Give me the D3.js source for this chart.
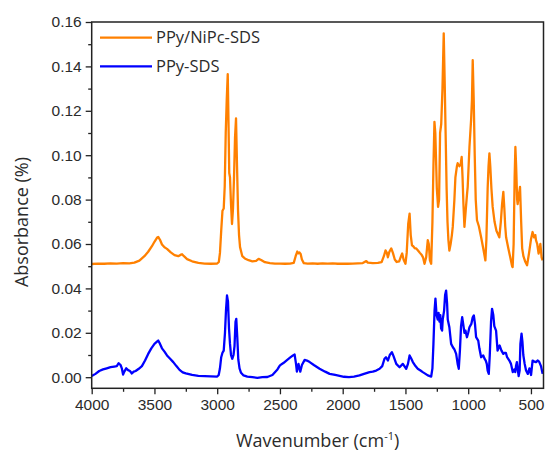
<!DOCTYPE html>
<html>
<head>
<meta charset="utf-8">
<script src="https://cdn.jsdelivr.net/npm/d3@7"></script>
<style>
  html, body { margin: 0; padding: 0; background: #fff; }
  svg { display: block; font-family: "Open Sans", "Noto Sans", sans-serif; }
</style>
</head>
<body>
<svg id="chart" width="546" height="454"></svg>
<script>
// ---------- DATA ----------
const seriesNames = ["PPy/NiPc-SDS", "PPy-SDS"];

const nipcWavenumber = [4000,3950,3900,3850,3800,3750,3700,3660,3620,3580,3550,3520,3500,3480,3470,3455,3440,3420,3400,3370,3340,3310,3290,3280,3265,3240,3200,3150,3100,3050,3000,2987,2978,2968,2958,2948,2940,2932,2924,2916,2910,2904,2898,2890,2882,2874,2866,2858,2850,2842,2834,2826,2818,2800,2780,2750,2720,2690,2670,2650,2620,2580,2540,2500,2460,2420,2390,2375,2362,2352,2345,2335,2325,2310,2280,2240,2200,2160,2120,2080,2040,2000,1960,1920,1880,1840,1812,1800,1760,1720,1690,1672,1659,1648,1640,1628,1613,1600,1585,1570,1550,1535,1526,1515,1500,1490,1478,1467,1458,1448,1438,1425,1414,1400,1385,1370,1360,1348,1335,1322,1314,1305,1295,1285,1277,1269,1262,1250,1240,1232,1224,1215,1205,1195,1188,1180,1172,1165,1158,1150,1140,1130,1123,1110,1102,1090,1084,1070,1060,1052,1045,1038,1030,1020,1010,1004,990,977,970,964,956,948,940,930,915,897,880,863,855,845,838,831,824,815,805,790,775,765,752,740,730,720,712,705,698,680,665,650,646,638,630,624,618,610,606,596,587,578,570,560,545,531,515,500,487,475,465,460,450,439,425,415,407];
const nipcAbsorbance = [0.0510,0.0512,0.0511,0.0513,0.0512,0.0514,0.0513,0.0516,0.0525,0.0545,0.0565,0.0590,0.0610,0.0628,0.0632,0.0618,0.0598,0.0585,0.0578,0.0562,0.0550,0.0545,0.0552,0.0554,0.0545,0.0532,0.0522,0.0515,0.0512,0.0511,0.0512,0.0519,0.0560,0.0660,0.0750,0.0760,0.0860,0.1100,0.1250,0.1365,0.1150,0.0920,0.0900,0.0780,0.0690,0.0760,0.0900,0.1080,0.1166,0.0950,0.0750,0.0640,0.0586,0.0545,0.0535,0.0527,0.0522,0.0524,0.0533,0.0528,0.0518,0.0514,0.0512,0.0512,0.0511,0.0512,0.0515,0.0545,0.0566,0.0558,0.0562,0.0555,0.0530,0.0514,0.0512,0.0513,0.0511,0.0513,0.0512,0.0513,0.0511,0.0512,0.0511,0.0512,0.0513,0.0514,0.0523,0.0516,0.0514,0.0515,0.0518,0.0545,0.0571,0.0560,0.0540,0.0565,0.0580,0.0560,0.0530,0.0519,0.0522,0.0545,0.0557,0.0530,0.0511,0.0560,0.0690,0.0737,0.0640,0.0594,0.0590,0.0580,0.0580,0.0571,0.0560,0.0550,0.0540,0.0511,0.0540,0.0617,0.0600,0.0526,0.0511,0.0700,0.0950,0.1150,0.1100,0.0850,0.0767,0.0800,0.1100,0.1140,0.1300,0.1549,0.1350,0.1100,0.0850,0.0700,0.0620,0.0570,0.0600,0.0640,0.0677,0.0800,0.0900,0.0950,0.0964,0.0950,0.0960,0.0992,0.0900,0.0780,0.0677,0.0750,0.0820,0.0857,0.1037,0.1158,0.1250,0.1428,0.1250,0.1000,0.0800,0.0707,0.0680,0.0630,0.0580,0.0526,0.0620,0.0850,0.0950,0.1008,0.0950,0.0850,0.0767,0.0700,0.0660,0.0647,0.0630,0.0700,0.0780,0.0835,0.0760,0.0680,0.0630,0.0580,0.0540,0.0500,0.0496,0.0600,0.0900,0.1037,0.0950,0.0800,0.0780,0.0820,0.0857,0.0700,0.0580,0.0545,0.0520,0.0504,0.0560,0.0620,0.0654,0.0630,0.0640,0.0617,0.0600,0.0557,0.0600,0.0540,0.0526];

const sdsWavenumber = [4000,3970,3940,3910,3880,3850,3820,3800,3785,3770,3760,3750,3740,3725,3710,3695,3680,3665,3650,3625,3600,3575,3550,3525,3500,3480,3470,3460,3440,3420,3400,3375,3350,3325,3300,3275,3250,3200,3150,3100,3050,3000,2988,2978,2968,2958,2948,2938,2930,2922,2914,2906,2898,2890,2880,2870,2862,2854,2848,2840,2832,2822,2810,2790,2760,2720,2680,2640,2600,2560,2520,2500,2470,2449,2420,2396,2383,2372,2365,2358,2352,2345,2338,2325,2303,2285,2263,2230,2184,2140,2104,2060,2025,1990,1950,1910,1866,1830,1786,1760,1733,1706,1685,1667,1655,1640,1625,1608,1595,1573,1547,1521,1494,1480,1467,1455,1441,1420,1402,1380,1362,1340,1322,1295,1285,1277,1268,1261,1252,1243,1236,1229,1222,1216,1208,1203,1192,1184,1176,1168,1163,1150,1136,1122,1110,1096,1084,1075,1066,1057,1048,1040,1030,1022,1010,1000,990,975,964,955,946,937,920,911,897,880,871,860,852,845,836,828,818,810,800,792,778,766,750,735,720,712,700,690,672,659,645,632,625,619,612,606,598,590,584,575,568,561,550,539,525,512,499,487,473,460,447,435,420,407];
const sdsAbsorbance = [0.0005,0.0015,0.0028,0.0035,0.0040,0.0045,0.0048,0.0050,0.0063,0.0055,0.0040,0.0012,0.0025,0.0040,0.0032,0.0028,0.0017,0.0025,0.0028,0.0038,0.0050,0.0075,0.0105,0.0130,0.0150,0.0160,0.0165,0.0155,0.0130,0.0115,0.0098,0.0083,0.0068,0.0050,0.0033,0.0022,0.0017,0.0010,0.0006,0.0005,0.0004,0.0003,0.0010,0.0040,0.0090,0.0110,0.0120,0.0200,0.0300,0.0368,0.0340,0.0220,0.0150,0.0100,0.0083,0.0100,0.0140,0.0250,0.0263,0.0180,0.0080,0.0040,0.0020,0.0008,0.0003,0.0000,-0.0003,0.0000,0.0001,0.0010,0.0035,0.0053,0.0065,0.0075,0.0088,0.0098,0.0102,0.0060,0.0025,0.0045,0.0060,0.0040,0.0025,0.0055,0.0078,0.0075,0.0068,0.0055,0.0038,0.0025,0.0015,0.0010,0.0006,0.0002,0.0000,0.0003,0.0008,0.0015,0.0023,0.0025,0.0030,0.0038,0.0050,0.0083,0.0090,0.0075,0.0100,0.0113,0.0095,0.0060,0.0045,0.0060,0.0038,0.0060,0.0098,0.0085,0.0068,0.0050,0.0038,0.0030,0.0023,0.0015,0.0008,0.0003,0.0040,0.0150,0.0300,0.0354,0.0280,0.0260,0.0290,0.0250,0.0280,0.0220,0.0210,0.0260,0.0300,0.0370,0.0390,0.0330,0.0260,0.0225,0.0150,0.0135,0.0125,0.0105,0.0060,0.0038,0.0120,0.0230,0.0270,0.0240,0.0200,0.0210,0.0180,0.0200,0.0225,0.0240,0.0270,0.0278,0.0240,0.0180,0.0165,0.0130,0.0090,0.0098,0.0085,0.0075,0.0060,0.0030,0.0015,0.0100,0.0250,0.0308,0.0280,0.0230,0.0210,0.0120,0.0143,0.0120,0.0105,0.0110,0.0110,0.0090,0.0075,0.0060,0.0023,0.0035,0.0023,0.0050,0.0068,0.0040,0.0005,0.0030,0.0150,0.0196,0.0160,0.0100,0.0060,0.0030,0.0015,0.0040,0.0010,0.0075,0.0070,0.0068,0.0075,0.0070,0.0050,0.0015,0.0003];

const xMajorTicks = [4000,3500,3000,2500,2000,1500,1000,500];
const xMinorTicks = [3750,3250,2750,2250,1750,1250,750];
const yMajorTicks = [0.00,0.02,0.04,0.06,0.08,0.10,0.12,0.14,0.16];
const yMinorTicks = [0.01,0.03,0.05,0.07,0.09,0.11,0.13,0.15];
const seriesColors = ["#FF8000", "#0000FF"];

// ---------- LAYOUT ----------
const svg = d3.select("#chart");
const plot = { left: 91.7, right: 543.5, top: 22, bottom: 388.3 };
const textColor = "#2b2b2b";

const x = d3.scaleLinear().domain([4000, 400]).range([plot.left, plot.right]);
const y = d3.scaleLinear().domain([-0.005, 0.16]).range([plot.bottom, plot.top]);

svg.append("defs").append("clipPath").attr("id", "clip")
  .append("rect")
  .attr("x", plot.left).attr("y", plot.top)
  .attr("width", plot.right - plot.left).attr("height", plot.bottom - plot.top);

// lines
const series = [
  { name: seriesNames[0], wn: nipcWavenumber, ab: nipcAbsorbance, color: seriesColors[0] },
  { name: seriesNames[1], wn: sdsWavenumber, ab: sdsAbsorbance, color: seriesColors[1] }
];
const line = d3.line().x(d => x(d[0])).y(d => y(d[1]));
const gLines = svg.append("g").attr("clip-path", "url(#clip)");
series.forEach(s => {
  const pts = s.wn.map((w, i) => [w, s.ab[i]]);
  gLines.append("path")
    .datum(pts)
    .attr("fill", "none")
    .attr("stroke", s.color)
    .attr("stroke-width", 2.3)
    .attr("stroke-linejoin", "round")
    .attr("d", line);
});

// frame
svg.append("rect")
  .attr("x", plot.left).attr("y", plot.top)
  .attr("width", plot.right - plot.left).attr("height", plot.bottom - plot.top)
  .attr("fill", "none").attr("stroke", "#222").attr("stroke-width", 1.5);

// axes
function styleAxis(g) {
  g.select(".domain").remove();
  g.selectAll(".tick line").attr("stroke", "#222").attr("stroke-width", 1.3);
  g.selectAll(".tick text").attr("fill", textColor).style("font-size", "15.5px");
}
svg.append("g").attr("transform", `translate(0,${plot.bottom})`)
  .call(d3.axisBottom(x).tickValues(xMajorTicks).tickSize(6).tickPadding(5).tickFormat(d3.format("d")))
  .call(styleAxis);
svg.append("g").attr("transform", `translate(0,${plot.bottom})`)
  .call(d3.axisBottom(x).tickValues(xMinorTicks).tickSize(3.5).tickFormat(""))
  .call(styleAxis);
svg.append("g").attr("transform", `translate(${plot.left},0)`)
  .call(d3.axisLeft(y).tickValues(yMajorTicks).tickSize(6).tickPadding(4).tickFormat(d3.format(".2f")))
  .call(styleAxis);
svg.append("g").attr("transform", `translate(${plot.left},0)`)
  .call(d3.axisLeft(y).tickValues(yMinorTicks).tickSize(3.5).tickFormat(""))
  .call(styleAxis);

// axis titles
const xt = svg.append("text")
  .attr("x", (plot.left + plot.right) / 2).attr("y", 447)
  .attr("text-anchor", "middle").attr("fill", textColor)
  .style("font-size", "18px");
xt.append("tspan").text("Wavenumber (cm");
xt.append("tspan").attr("dy", -7).style("font-size", "11px").text("-1");
xt.append("tspan").attr("dy", 7).text(")");

svg.append("text")
  .attr("transform", "translate(28,222) rotate(-90)")
  .attr("text-anchor", "middle").attr("fill", textColor)
  .style("font-size", "18px")
  .text("Absorbance (%)");

// legend
const legendRows = [37.7, 66.3];
series.forEach((s, i) => {
  svg.append("line")
    .attr("x1", 100).attr("x2", 152)
    .attr("y1", legendRows[i]).attr("y2", legendRows[i])
    .attr("stroke", s.color).attr("stroke-width", 2.3);
  svg.append("text")
    .attr("x", 156).attr("y", legendRows[i])
    .attr("dy", "0.35em")
    .attr("fill", textColor)
    .style("font-size", "16.5px")
    .text(s.name);
});
</script>
</body>
</html>
